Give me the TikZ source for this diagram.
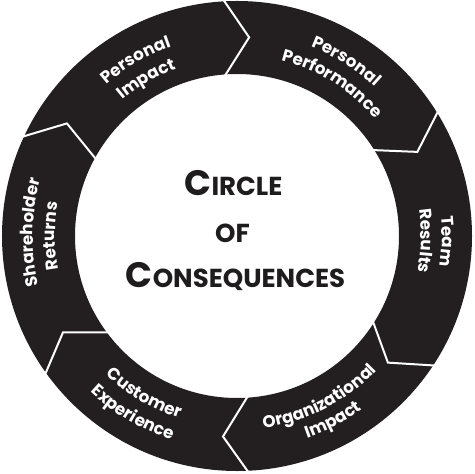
\documentclass[tikz,border=0pt]{standalone}
\usepackage{fontspec}
\setmainfont{Poppins}
\usetikzlibrary{decorations.text}
\newcommand{\ringfont}{\bfseries\fontsize{12.6}{13}\selectfont}
\newcommand{\titlebig}{\bfseries\fontsize{26.5}{30}\selectfont}
\newcommand{\titlesmall}{\bfseries\fontsize{19.5}{30}\selectfont}
\tikzset{
	chevron/.style={draw=white, line width=1.5pt, line join=miter},
	cwlabel/.style={decorate,
		decoration={text along path, text align=center, text color=white, text={|\ringfont|#1}}},
	ccwlabel/.style={decorate,
		decoration={text along path, text align=center, text color=white, text={|\ringfont|#1}}},
	titletext/.style={anchor=base, inner sep=0pt, text={rgb, 255:red, 30; green, 28; blue, 29}}
}

\begin{document}
\begin{tikzpicture}[x=0.75pt,y=0.75pt]
\useasboundingbox (-237,-238) rectangle (237,236);

% ring
\fill [color={rgb, 255:red, 35; green, 31; blue, 32 }, even odd rule] (0,0) circle (235) (0,0) circle (162);

% chevrons between the segments
\draw [chevron] (93.5:238) -- (86.5:199) -- (94.5:160) ;
\draw [chevron] (32:238) -- (25:199) -- (32.5:160) ;
\draw [chevron] (-33:238) -- (-40:197) -- (-32:160) ;
\draw [chevron] (-87:238) -- (-94:201) -- (-86:160) ;
\draw [chevron] (216:238) -- (209:199) -- (217:160) ;
\draw [chevron] (155.5:238) -- (146.5:204) -- (151.5:160) ;

% labels on the ring
\path [cwlabel={Personal}] (180:200) arc [start angle=180, end angle=60, radius=200] ;
\path [cwlabel={Impact}] (180:178) arc [start angle=180, end angle=60, radius=178] ;
\path [cwlabel={Personal}] (118:203) arc [start angle=118, end angle=-2, radius=203] ;
\path [cwlabel={Performance}] (118:181) arc [start angle=118, end angle=-2, radius=181] ;
\path [cwlabel={Team}] (58.5:205) arc [start angle=58.5, end angle=-61.5, radius=205] ;
\path [cwlabel={Results}] (58.5:184) arc [start angle=58.5, end angle=-61.5, radius=184] ;
\path [ccwlabel={Organizational}] (-123:194) arc [start angle=-123, end angle=-3, radius=194] ;
\path [ccwlabel={Impact}] (-122.5:214) arc [start angle=-122.5, end angle=-2.5, radius=214] ;
\path [ccwlabel={Customer}] (-180.5:191) arc [start angle=-180.5, end angle=-60.5, radius=191] ;
\path [ccwlabel={Experience}] (-180.5:214) arc [start angle=-180.5, end angle=-60.5, radius=214] ;
\path [cwlabel={Shareholder}] (239:204) arc [start angle=239, end angle=119, radius=204] ;
\path [cwlabel={Returns}] (240:182) arc [start angle=240, end angle=120, radius=182] ;

% title
\node [titletext] (circle) at (-3.5,40) {\titlebig C\titlesmall IRCLE};
\node [titletext] (of) at (-4.5,-6.7) {\titlesmall OF};
\node [titletext] (consequences) at (-1.5,-51) {\titlebig C\titlesmall ONSEQUENCES};

\end{tikzpicture}
\end{document}
